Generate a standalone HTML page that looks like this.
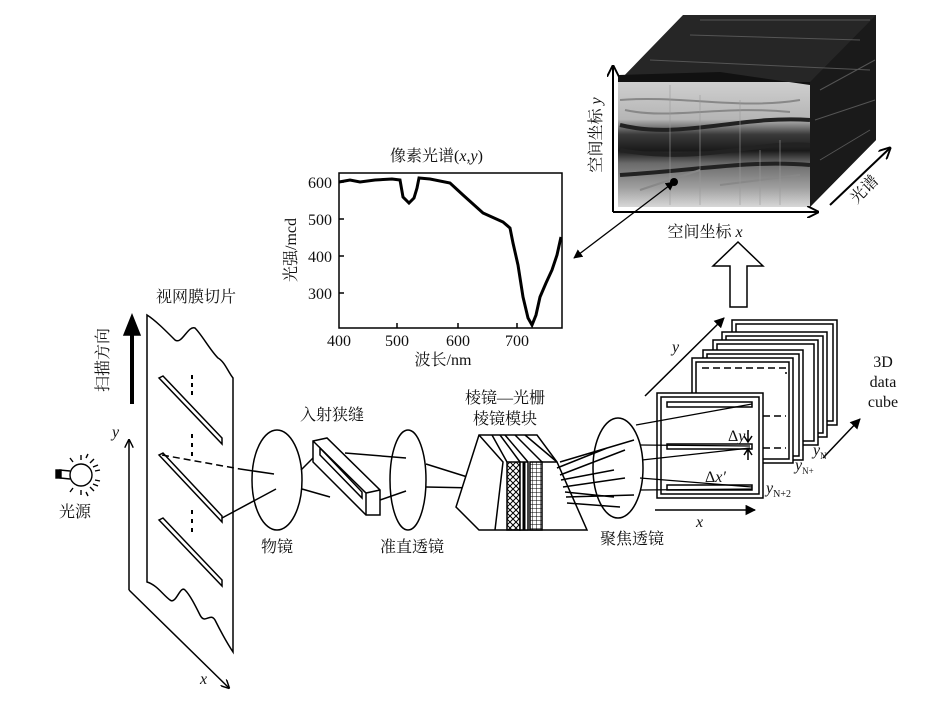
<!DOCTYPE html>
<html><head><meta charset="utf-8"><style>
html,body{margin:0;padding:0;background:#fff}
svg text{font-family:"Liberation Serif","Noto Serif CJK SC",serif;fill:#111}
</style></head><body>
<svg width="932" height="704" viewBox="0 0 932 704" xmlns="http://www.w3.org/2000/svg">
<defs>
<pattern id="xh" width="6" height="6" patternUnits="userSpaceOnUse"><path d="M0,0L6,6M6,0L0,6" stroke="#000" stroke-width="1"/></pattern>
<pattern id="gr" width="4" height="4" patternUnits="userSpaceOnUse"><path d="M0,0H4M0,0V4" stroke="#000" stroke-width="1"/></pattern>
<linearGradient id="img" x1="0" y1="0" x2="0" y2="1">
<stop offset="0" stop-color="#cfcfcf"/><stop offset="0.3" stop-color="#b5b5b5"/><stop offset="0.42" stop-color="#3a3a3a"/><stop offset="0.55" stop-color="#1a1a1a"/><stop offset="0.65" stop-color="#6a6a6a"/><stop offset="0.85" stop-color="#a0a0a0"/><stop offset="1" stop-color="#d8d8d8"/>
</linearGradient>
<marker id="ah" viewBox="0 0 10 10" refX="9" refY="5" markerWidth="7" markerHeight="7" orient="auto-start-reverse"><path d="M0,0L10,5L0,10z" fill="#000"/></marker>
<marker id="oa" viewBox="0 0 10 10" refX="9" refY="5" markerWidth="6" markerHeight="6" orient="auto-start-reverse"><path d="M0,0L10,5L0,10" fill="none" stroke="#000" stroke-width="1.6"/></marker>
</defs>
<g fill="none" stroke="#000" stroke-width="1.5">

<!-- data cube (top right) -->
<polygon points="618,82 683,15 876,15 876,140 810,207 810,82" fill="#262626" stroke="none"/>
<polygon points="810,82 876,15 876,140 810,207" fill="#1a1a1a" stroke="none"/>
<path d="M700,20L870,20M690,35L860,40M650,60L870,70M820,90L875,60M815,120L875,100M820,160L870,130" stroke="#555" stroke-width="1"/>
<rect x="618" y="82" width="192" height="125" fill="url(#img)" stroke="none"/>
<path d="M620,125C680,140 740,115 810,120M620,150C700,165 760,140 810,145M620,175C700,170 750,160 810,165" stroke="#222" stroke-width="4"/>
<path d="M620,100C680,95 740,110 800,100M625,110C670,120 720,105 790,112M640,190L700,170M720,185L800,175" stroke="#888" stroke-width="2"/>
<path d="M670,85V205M700,95V205M740,100V205M760,150V205M780,140V205" stroke="#999" stroke-width="1" opacity="0.6"/>
<polygon points="618,82 618,75 720,72 810,85 810,82" fill="#111" stroke="none"/>
<circle cx="674" cy="182" r="4" fill="#000" stroke="none"/>
<line x1="613" y1="212" x2="613" y2="66" marker-end="url(#oa)" stroke-width="2"/>
<line x1="613" y1="212" x2="818" y2="212" marker-end="url(#oa)" stroke-width="2"/>
<line x1="830" y1="205" x2="890" y2="148" marker-end="url(#oa)" stroke-width="2"/>
<line x1="674" y1="182" x2="574" y2="258" marker-start="url(#ah)" marker-end="url(#ah)" stroke-width="1.3"/>
<polygon points="738,242 763,266 747,266 747,307 730,307 730,266 713,266" fill="#fff"/>

<!-- spectrum chart -->
<rect x="339" y="173" width="223" height="155"/>
<path d="M339,182h5M339,219h5M339,256h5M339,293h5M397,328v-5M458,328v-5M517,328v-5"/>
<path d="M339,182L350,180L360,182L375,180L392,179L400,180L403,197L409,203L414,198L417,188L419,178L430,179L450,183L463,195L483,213L503,222L510,228L513,243L518,265L523,297L528,318L532,325L536,315L540,297L546,283L552,270L557,255L561,237" stroke-width="3"/>

<!-- retina slice -->
<path d="M147,315C155,320 165,330 175,340C182,345 188,325 195,328C202,335 210,350 218,358C225,362 228,372 233,378L233,652C225,640 220,630 215,620C210,612 205,625 200,615C195,605 190,595 185,590C180,585 176,605 170,600C163,595 157,585 147,582Z"/>
<polygon points="159,378 163,376 222,438 222,444"/>
<polygon points="159,455 163,453 222,516 222,522"/>
<polygon points="159,520 163,518 222,580 222,586"/>
<path d="M192,375v4M192,383v4M192,391v4M192,434v4M192,443v4M192,452v4M192,510v4M192,519v4M192,528v4" stroke-width="2"/>
<line x1="129" y1="590" x2="129" y2="440" marker-end="url(#oa)"/>
<line x1="129" y1="590" x2="229" y2="688" marker-end="url(#oa)"/>
<line x1="132" y1="404" x2="132" y2="330" stroke-width="4"/>
<polygon points="124,335 132,315 140,335" fill="#000"/>
<!-- bulb -->
<g stroke-width="1.4"><ellipse cx="81" cy="475" rx="11" ry="11"/><path d="M70,471L60,470L60,478L70,479"/><rect x="56" y="470" width="5" height="8" fill="#000"/>
<path d="M81,460v-5M90,463l4,-4M95,471l5,-1M95,480l5,1M90,487l4,4M81,490v5M73,488l-3,4M73,462l-3,-4M86,458l2,-4M93,467l5,-2M93,484l5,2M86,492l2,4"/></g>
<!-- rays -->
<line x1="162" y1="455" x2="240" y2="469" stroke-dasharray="7,4"/>
<line x1="240" y1="469" x2="274" y2="474"/>
<line x1="222" y1="518" x2="276" y2="489"/>
<ellipse cx="277" cy="480" rx="25" ry="50"/>
<line x1="301" y1="470" x2="314" y2="457"/><line x1="302" y1="489" x2="330" y2="497"/>
<!-- entrance slit -->
<polygon points="313,441 327,438 380,490 380,515 366,515 313,462" fill="#fff"/>
<path d="M313,441L366,493L380,490M366,493V515"/>
<path d="M320,448L362,492L362,498L320,455Z"/>
<line x1="345" y1="453" x2="406" y2="458"/><line x1="380" y1="500" x2="406" y2="491"/>
<ellipse cx="408" cy="480" rx="18" ry="50"/>
<line x1="426" y1="464" x2="477" y2="480"/><line x1="426" y1="487" x2="477" y2="488"/>
<!-- prism module -->
<polygon points="479,435 537,435 557,462 587,530 479,530 456,507" fill="#fff"/>
<path d="M479,435L503,462L495,530M492,435L507,462M500,435L520,462M505,435L528,462M515,435L542,462M525,435L557,462"/>
<rect x="507" y="462" width="13" height="68" fill="url(#xh)"/>
<rect x="520" y="462" width="8" height="68" fill="#fff"/><line x1="524" y1="462" x2="524" y2="530" stroke-width="3"/>
<rect x="530" y="462" width="12" height="68" fill="url(#gr)"/>
<line x1="542" y1="462" x2="557" y2="462"/>
<!-- fan -->
<path d="M557,468L607,448M560,475L625,450M561,480L614,470M563,487L625,478M565,492L614,497M566,497L634,495M567,503L620,507M560,462L634,440"/>
<ellipse cx="618" cy="468" rx="25" ry="50"/>
<!-- frames -->
<g fill="#fff">
<rect x="732" y="320" width="105" height="105"/><rect x="736" y="324" width="97" height="97"/>
<rect x="722" y="332" width="105" height="105"/><rect x="726" y="336" width="97" height="97"/>
<rect x="713" y="340" width="105" height="105"/><rect x="717" y="344" width="97" height="97"/>
<rect x="703" y="350" width="100" height="110"/><rect x="707" y="354" width="92" height="102"/>
<rect x="692" y="358" width="101" height="105"/><rect x="696" y="362" width="93" height="97"/>
</g>
<path d="M702,368H786V374M763,416H786M763,448H786" stroke-dasharray="7,4"/>
<rect x="657" y="393" width="106" height="105" fill="#fff"/><rect x="661" y="397" width="98" height="97"/>
<rect x="667" y="402" width="85" height="5"/><rect x="667" y="444" width="85" height="5"/><rect x="667" y="485" width="85" height="5"/>
<path d="M636,425L752,404M640,445L750,446M642,460L750,448M640,478L752,487M641,490L752,489" stroke-width="1.2"/>
<path d="M748,430V442M744,436L748,442L752,436M748,460V449M744,455L748,449L752,455"/>
<line x1="655" y1="510" x2="755" y2="510" marker-end="url(#ah)"/>
<line x1="645" y1="396" x2="724" y2="318" marker-end="url(#ah)"/>
<line x1="823" y1="458" x2="860" y2="419" marker-end="url(#ah)"/>
</g>

<g font-size="16">
<text x="390" y="161">像素光谱(<tspan font-style="italic">x</tspan>,<tspan font-style="italic">y</tspan>)</text>
<g text-anchor="end"><text x="332" y="188">600</text><text x="332" y="225">500</text><text x="332" y="262">400</text><text x="332" y="299">300</text></g>
<g text-anchor="middle"><text x="339" y="346">400</text><text x="397" y="346">500</text><text x="458" y="346">600</text><text x="517" y="346">700</text>
<text x="443" y="365">波长/nm</text>
<text x="196" y="302">视网膜切片</text>
<text x="75" y="517">光源</text>
<text x="277" y="552">物镜</text>
<text x="332" y="420">入射狭缝</text>
<text x="412" y="552">准直透镜</text>
<text x="505" y="403">棱镜—光栅</text>
<text x="505" y="424">棱镜模块</text>
<text x="632" y="544">聚焦透镜</text>
<text x="705" y="237">空间坐标 <tspan font-style="italic">x</tspan></text>
<text x="883" y="367" font-family="Liberation Sans, sans-serif">3D</text>
<text x="883" y="387" font-family="Liberation Sans, sans-serif">data</text>
<text x="883" y="407" font-family="Liberation Sans, sans-serif">cube</text>
</g>
<text transform="translate(296,250) rotate(-90)" text-anchor="middle" font-size="16">光强/mcd</text>
<text transform="translate(108,360) rotate(-90)" text-anchor="middle" font-size="16">扫描方向</text>
<text transform="translate(601,135) rotate(-90)" text-anchor="middle" font-size="16">空间坐标 <tspan font-style="italic">y</tspan></text>
<text transform="translate(868,193) rotate(-45)" text-anchor="middle" font-size="16">光谱</text>
<g font-style="italic" font-size="16">
<text x="112" y="437">y</text><text x="200" y="684">x</text>
<text x="672" y="352">y</text><text x="696" y="527">x</text>
<text x="728" y="441" font-style="normal">Δ<tspan font-style="italic">y′</tspan></text>
<text x="705" y="482" font-style="normal">Δ<tspan font-style="italic">x′</tspan></text>
<text x="766" y="493">y<tspan font-size="10" dy="4" font-style="normal">N+2</tspan></text>
<text x="795" y="470">y<tspan font-size="9" dy="4" font-style="normal">N+</tspan></text>
<text x="813" y="455">y<tspan font-size="9" dy="4" font-style="normal">N</tspan></text>
</g>
</g>
</svg>
</body></html>
